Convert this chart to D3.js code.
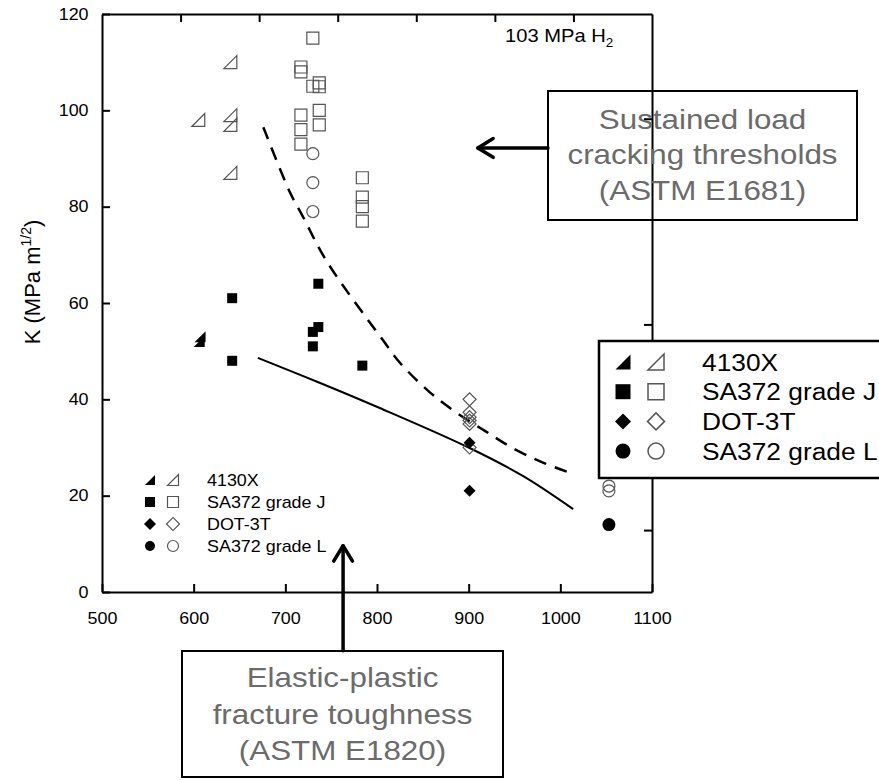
<!DOCTYPE html>
<html lang="en">
<head>
    <meta charset="UTF-8">
    <title>K vs strength - hydrogen</title>
    <script src="https://d3js.org/d3.v7.min.js"></script>
    <style>
        body {
            margin: 0;
            padding: 0;
            background-color: #fff;
        }
        svg text {
            font-family: "Liberation Sans", Arial, sans-serif;
        }
        .axis path, .axis line {
            stroke: #000;
            stroke-width: 2;
        }
    </style>
</head>
<body>
    <div id="chart"></div>

    <script>
        // data: [strength, K]
        const x4130Closed = [[606, 52], [607, 53]];
        const x4130Open = [[605, 98], [640, 110], [640, 99], [640, 97], [640, 87]];
        const saJClosed = [[642, 61], [642, 48], [736, 64], [736, 55], [730, 54], [730, 51], [784, 47]];
        const saJOpen = [[730, 115], [717, 109], [717, 108], [730, 105], [737, 105.7], [737, 104.9],
                         [737, 100], [737, 97], [717, 99], [717, 96], [717, 93],
                         [784, 86], [784, 82], [784, 80], [784, 77]];
        const dotClosed = [[901, 31], [901, 21]];
        const dotOpen = [[901, 40], [901, 37.3], [901, 36.3], [901, 35.6], [901, 34.9], [901, 30]];
        const saLClosed = [[1053, 14]];
        const saLOpen = [[730, 91], [730, 85], [730, 79], [1053, 22], [1053, 21]];

        // fitted trends
        const thresholdCurve = [[676, 96.5], [705, 83], [719, 78], [745, 68.7], [806, 52.4], [825, 47.6],
                                [858, 41.4], [887, 37.2], [919, 33.3], [945, 30.2], [978, 27.1], [1007, 25]];
        const toughnessCurve = [[670, 48.6], [738, 43.4], [803, 38.2], [901, 29.9], [960, 24.0], [1014, 17.2]];

        const xTicks = [500, 600, 700, 800, 900, 1000, 1100];
        const yTicks = [0, 20, 40, 60, 80, 100, 120];
        const legendNames = ["4130X", "SA372 grade J", "DOT-3T", "SA372 grade L"];

        const W = 879, H = 780;
        const stretch = 1.12; // text in the picture is a little wider than normal

        const svg = d3.select("#chart").append("svg")
            .attr("width", W)
            .attr("height", H);

        const x = d3.scaleLinear().domain([500, 1100]).range([102, 652]);
        const y = d3.scaleLinear().domain([0, 120]).range([592, 14]);
        // unlabeled secondary axes
        const xTop = d3.scaleLinear().domain([0, 7]).range([102, 652]);
        const yRight = d3.scaleLog().domain([1, 646]).range([592, 14]);

        // axes
        svg.append("g").attr("class", "axis")
            .attr("transform", "translate(0,592)")
            .call(d3.axisBottom(x).tickValues(xTicks).tickFormat(d3.format("d"))
                .tickSizeInner(-8).tickSizeOuter(0).tickPadding(21))
            .call(g => g.selectAll("text").attr("font-size", 16).attr("transform", `scale(${stretch},1)`));

        svg.append("g").attr("class", "axis")
            .attr("transform", "translate(102,0)")
            .call(d3.axisLeft(y).tickValues(yTicks).tickSizeInner(-8).tickSizeOuter(0).tickPadding(12))
            .call(g => g.selectAll("text").attr("font-size", 16).attr("transform", `scale(${stretch},1)`));

        svg.append("g").attr("class", "axis")
            .attr("transform", "translate(0,14)")
            .call(d3.axisTop(xTop).tickValues([1, 2, 3, 4, 5, 6]).tickSizeInner(-8).tickSizeOuter(0).tickFormat(""));

        svg.append("g").attr("class", "axis")
            .attr("transform", "translate(652,0)")
            .call(d3.axisRight(yRight).tickValues([2, 20, 200]).tickSizeInner(-8).tickSizeOuter(0).tickFormat(""));

        // y label
        const yLab = svg.append("text")
            .attr("transform", "translate(40,282) rotate(-90)")
            .attr("text-anchor", "middle")
            .attr("font-size", 22);
        yLab.append("tspan").text("K (MPa m");
        yLab.append("tspan").attr("font-size", 14).attr("dy", -9).text("1/2");
        yLab.append("tspan").attr("dy", 9).text(")");

        // condition label
        const cond = svg.append("text")
            .attr("transform", `translate(505,42) scale(${stretch},1)`)
            .attr("font-size", 18);
        cond.append("tspan").text("103 MPa H");
        cond.append("tspan").attr("font-size", 12).attr("dy", 5).text("2");

        // trend lines
        const line = d3.line().x(d => x(d[0])).y(d => y(d[1])).curve(d3.curveCatmullRom);
        svg.append("path").datum(thresholdCurve)
            .attr("d", line).attr("fill", "none").attr("stroke", "#000")
            .attr("stroke-width", 2.5).attr("stroke-dasharray", "13,9");
        svg.append("path").datum(toughnessCurve)
            .attr("d", line).attr("fill", "none").attr("stroke", "#000")
            .attr("stroke-width", 2);

        // marker shapes
        const triPath = s => `M${-s / 2},${s / 2}L${s / 2},${s / 2}L${s / 2},${-s / 2}Z`;
        const shapes = {
            tri: s => triPath(s),
            square: s => d3.symbol(d3.symbolSquare, s * s)(),
            diamond: s => d3.symbol(d3.symbolSquare, s * s / 2)(),
            circle: s => d3.symbol(d3.symbolCircle, Math.PI * s * s / 4)()
        };

        const drawPoints = (data, shape, size, filled) => {
            svg.append("g").selectAll("path")
                .data(data)
                .join("path")
                .attr("d", shapes[shape](size))
                .attr("transform", d => `translate(${x(d[0])},${y(d[1])})` + (shape === "diamond" ? " rotate(45)" : ""))
                .attr("fill", filled ? "#000" : "none")
                .attr("stroke", filled ? "none" : "#555")
                .attr("stroke-width", 1.2);
        };

        drawPoints(x4130Open, "tri", 13, false);
        drawPoints(x4130Closed, "tri", 11, true);
        drawPoints(saJOpen, "square", 12, false);
        drawPoints(saJClosed, "square", 10, true);
        drawPoints(dotOpen, "diamond", 13, false);
        drawPoints(dotClosed, "diamond", 12, true);
        drawPoints(saLOpen, "circle", 12, false);
        drawPoints(saLClosed, "circle", 13, true);

        const legendShapes = ["tri", "square", "diamond", "circle"];

        // small legend inside plot
        const leg1 = svg.append("g");
        legendNames.forEach((name, i) => {
            const cy = 480 + i * 22;
            const shp = legendShapes[i];
            const rot = shp === "diamond" ? " rotate(45)" : "";
            leg1.append("path").attr("d", shapes[shp](shp === "diamond" ? 12 : 10))
                .attr("transform", `translate(150,${cy})${rot}`).attr("fill", "#000");
            leg1.append("path").attr("d", shapes[shp](shp === "diamond" ? 13 : 11))
                .attr("transform", `translate(173,${cy})${rot}`)
                .attr("fill", "none").attr("stroke", "#555").attr("stroke-width", 1.2);
            leg1.append("text").attr("transform", `translate(207,${cy + 6}) scale(${stretch},1)`)
                .attr("font-size", 16).text(name);
        });

        // big legend on the right
        const leg2 = svg.append("g");
        leg2.append("rect").attr("x", 599).attr("y", 341).attr("width", 300).attr("height", 137)
            .attr("fill", "#fff").attr("stroke", "#000").attr("stroke-width", 2.5);
        legendNames.forEach((name, i) => {
            const cy = 362 + i * 29.7;
            const shp = legendShapes[i];
            const rot = shp === "diamond" ? " rotate(45)" : "";
            leg2.append("path").attr("d", shapes[shp](shp === "diamond" ? 16 : 15))
                .attr("transform", `translate(623,${cy})${rot}`).attr("fill", "#000");
            leg2.append("path").attr("d", shapes[shp](shp === "diamond" ? 17 : 16))
                .attr("transform", `translate(656,${cy})${rot}`)
                .attr("fill", "none").attr("stroke", "#555").attr("stroke-width", 1.5);
            leg2.append("text").attr("transform", `translate(702,${cy + 8.5}) scale(${stretch},1)`)
                .attr("font-size", 23.5).text(name);
        });

        // annotation boxes
        const noteBox = (bx, by, bw, bh, lines, baselines) => {
            const g = svg.append("g");
            g.append("rect").attr("x", bx).attr("y", by).attr("width", bw).attr("height", bh)
                .attr("fill", "none").attr("stroke", "#000").attr("stroke-width", 2);
            lines.forEach((t, i) => {
                g.append("text")
                    .attr("transform", `translate(${bx + bw / 2},${baselines[i]}) scale(${stretch},1)`)
                    .attr("text-anchor", "middle").attr("font-size", 28)
                    .attr("fill", "#6b6b6b").text(t);
            });
        };
        noteBox(548, 91, 309, 129, ["Sustained load", "cracking thresholds", "(ASTM E1681)"], [129, 164, 200]);
        noteBox(182, 651, 321, 126, ["Elastic-plastic", "fracture toughness", "(ASTM E1820)"], [687, 724, 760]);

        // arrows (in data units)
        const arrow = (x1, y1, x2, y2) => {
            const px1 = x(x1), py1 = y(y1), px2 = x(x2), py2 = y(y2);
            const ang = Math.atan2(py2 - py1, px2 - px1);
            const len = 18, spread = 0.55;
            const g = svg.append("g").attr("stroke", "#000").attr("stroke-width", 3.5)
                .attr("fill", "none").attr("stroke-linecap", "round").attr("stroke-linejoin", "round");
            g.append("line").attr("x1", px1).attr("y1", py1).attr("x2", px2).attr("y2", py2);
            g.append("path").attr("d",
                `M${px2 - len * Math.cos(ang - spread)},${py2 - len * Math.sin(ang - spread)}` +
                `L${px2},${py2}` +
                `L${px2 - len * Math.cos(ang + spread)},${py2 - len * Math.sin(ang + spread)}`);
        };
        arrow(986.5, 92.2, 910, 92.2);
        arrow(763, -12.2, 763, 9.6);
    </script>
</body>
</html>
